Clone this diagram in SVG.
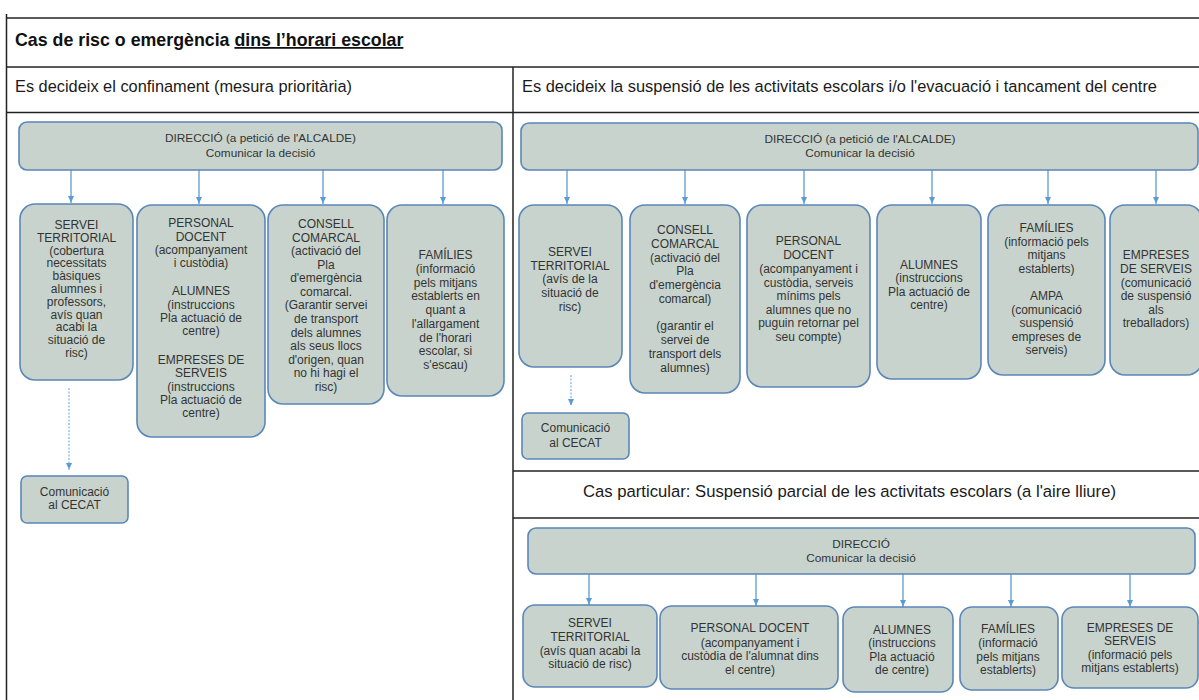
<svg xmlns="http://www.w3.org/2000/svg" width="1199" height="700" viewBox="0 0 1199 700">
<defs>
<marker id="ah" markerWidth="8" markerHeight="7" refX="7" refY="3.5" orient="auto" markerUnits="userSpaceOnUse">
<path d="M0,0.5 L6.5,3.5 L0,6.5 Z" fill="#5b9bd5"/>
</marker>
<style>
.tl{stroke:#222;stroke-width:1.5;fill:none}
.hd{font-family:"Liberation Sans",Arial,sans-serif;font-size:16.3px;fill:#1a1a1a}
.ti{font-family:"Liberation Sans",Arial,sans-serif;font-size:17.8px;font-weight:bold;fill:#111}
.bx{fill:#c8d3cd;stroke:#5a87b8;stroke-width:1.6}
.nt{font-family:"Liberation Sans",Arial,sans-serif;font-size:12px;fill:#333;text-anchor:middle}
.dt{font-family:"Liberation Sans",Arial,sans-serif;font-size:11.8px;fill:#333;text-anchor:middle}
.ar{stroke:#5b9bd5;stroke-width:1.3;fill:none}
.ad{stroke:#7fb0e0;stroke-width:1.2;fill:none;stroke-dasharray:2 1.5}
</style>
</defs>
<rect width="1199" height="700" fill="#fff"/>
<g id="table">
<line class="tl" x1="6.5" y1="14" x2="6.5" y2="700"/>
<line class="tl" x1="6" y1="18" x2="1199" y2="18"/>
<line class="tl" x1="6" y1="67" x2="1199" y2="67"/>
<line class="tl" x1="6" y1="112.5" x2="1199" y2="112.5"/>
<line class="tl" x1="513" y1="67" x2="513" y2="700"/>
<line class="tl" x1="513" y1="471" x2="1199" y2="471"/>
<line class="tl" x1="513" y1="518" x2="1199" y2="518"/>
<text class="ti" x="15" y="46">Cas de risc o emergència <tspan text-decoration="underline">dins l’horari escolar</tspan></text>
<text class="hd" x="15" y="92" textLength="337" lengthAdjust="spacingAndGlyphs">Es decideix el confinament (mesura prioritària)</text>
<text class="hd" x="522" y="92" textLength="635" lengthAdjust="spacingAndGlyphs">Es decideix la suspensió de les activitats escolars i/o l'evacuació i tancament del centre</text>
<text class="hd" x="583" y="497" textLength="533" lengthAdjust="spacingAndGlyphs">Cas particular: Suspensió parcial de les activitats escolars (a l'aire lliure)</text>
</g>
<g id="connectors">
<line class="ar" x1="71" y1="170" x2="71" y2="203" marker-end="url(#ah)"/>
<line class="ar" x1="199" y1="170" x2="199" y2="204" marker-end="url(#ah)"/>
<line class="ar" x1="323" y1="170" x2="323" y2="204" marker-end="url(#ah)"/>
<line class="ar" x1="443" y1="170" x2="443" y2="204" marker-end="url(#ah)"/>
<line class="ad" x1="69" y1="388" x2="69" y2="470" marker-end="url(#ah)"/>
<line class="ar" x1="567" y1="170" x2="567" y2="204" marker-end="url(#ah)"/>
<line class="ar" x1="685" y1="170" x2="685" y2="204" marker-end="url(#ah)"/>
<line class="ar" x1="804" y1="170" x2="804" y2="204" marker-end="url(#ah)"/>
<line class="ar" x1="932" y1="170" x2="932" y2="204" marker-end="url(#ah)"/>
<line class="ar" x1="1048" y1="170" x2="1048" y2="204" marker-end="url(#ah)"/>
<line class="ar" x1="1156" y1="170" x2="1156" y2="204" marker-end="url(#ah)"/>
<line class="ad" x1="571" y1="375" x2="571" y2="406" marker-end="url(#ah)"/>
<line class="ar" x1="589" y1="574" x2="589" y2="605" marker-end="url(#ah)"/>
<line class="ar" x1="756" y1="574" x2="756" y2="606" marker-end="url(#ah)"/>
<line class="ar" x1="903" y1="574" x2="903" y2="607" marker-end="url(#ah)"/>
<line class="ar" x1="1011" y1="574" x2="1011" y2="607" marker-end="url(#ah)"/>
<line class="ar" x1="1130" y1="574" x2="1130" y2="607" marker-end="url(#ah)"/>
</g>
<g id="dirL">
<rect class="bx" x="19" y="122" width="483" height="48" rx="8"/>
<text class="dt"><tspan x="260.5" y="142">DIRECCIÓ (a petició de l'ALCALDE)</tspan><tspan x="260.5" y="157">Comunicar la decisió</tspan></text>
</g>
<g id="serveiL">
<rect class="bx" x="20" y="204" width="113" height="176" rx="15"/>
<text class="nt"><tspan x="76.5" y="229">SERVEI</tspan><tspan x="76.5" y="241.8">TERRITORIAL</tspan><tspan x="76.5" y="254.6">(cobertura</tspan><tspan x="76.5" y="267.4">necessitats</tspan><tspan x="76.5" y="280.2">bàsiques</tspan><tspan x="76.5" y="293">alumnes i</tspan><tspan x="76.5" y="305.8">professors,</tspan><tspan x="76.5" y="318.6">avís quan</tspan><tspan x="76.5" y="331.4">acabi la</tspan><tspan x="76.5" y="344.2">situació de</tspan><tspan x="76.5" y="357">risc)</tspan></text>
</g>
<g id="personalL">
<rect class="bx" x="137" y="205" width="128" height="232" rx="15"/>
<text class="nt"><tspan x="201" y="227">PERSONAL</tspan><tspan x="201" y="241">DOCENT</tspan><tspan x="201" y="254">(acompanyament</tspan><tspan x="201" y="267">i custòdia)</tspan><tspan x="201" y="295">ALUMNES</tspan><tspan x="201" y="309">(instruccions</tspan><tspan x="201" y="322">Pla actuació de</tspan><tspan x="201" y="335">centre)</tspan><tspan x="201" y="364">EMPRESES DE</tspan><tspan x="201" y="377">SERVEIS</tspan><tspan x="201" y="391">(instruccions</tspan><tspan x="201" y="404">Pla actuació de</tspan><tspan x="201" y="417">centre)</tspan></text>
</g>
<g id="consellL">
<rect class="bx" x="268" y="205" width="116" height="199" rx="15"/>
<text class="nt"><tspan x="326" y="228">CONSELL</tspan><tspan x="326" y="241.6">COMARCAL</tspan><tspan x="326" y="255.1">(activació del</tspan><tspan x="326" y="268.7">Pla</tspan><tspan x="326" y="282.2">d'emergència</tspan><tspan x="326" y="295.8">comarcal.</tspan><tspan x="326" y="309.4">(Garantir servei</tspan><tspan x="326" y="322.9">de transport</tspan><tspan x="326" y="336.5">dels alumnes</tspan><tspan x="326" y="350">als seus llocs</tspan><tspan x="326" y="363.6">d'origen, quan</tspan><tspan x="326" y="377.2">no hi hagi el</tspan><tspan x="326" y="390.7">risc)</tspan></text>
</g>
<g id="familiesL">
<rect class="bx" x="387" y="205" width="117" height="191" rx="15"/>
<text class="nt"><tspan x="445.5" y="259">FAMÍLIES</tspan><tspan x="445.5" y="272.7">(informació</tspan><tspan x="445.5" y="286.5">pels mitjans</tspan><tspan x="445.5" y="300.2">establerts  en</tspan><tspan x="445.5" y="314">quant a</tspan><tspan x="445.5" y="327.7">l'allargament</tspan><tspan x="445.5" y="341.5">de l'horari</tspan><tspan x="445.5" y="355.2">escolar, si</tspan><tspan x="445.5" y="369">s'escau)</tspan></text>
</g>
<g id="cecatL">
<rect class="bx" x="21" y="476" width="107" height="47" rx="6"/>
<text class="nt"><tspan x="74.5" y="496">Comunicació</tspan><tspan x="74.5" y="509">al CECAT</tspan></text>
</g>
<g id="dirR">
<rect class="bx" x="521" y="123" width="677" height="47" rx="8"/>
<text class="dt"><tspan x="860" y="143">DIRECCIÓ (a petició de l'ALCALDE)</tspan><tspan x="860" y="157">Comunicar la decisió</tspan></text>
</g>
<g id="serveiR">
<rect class="bx" x="519" y="205" width="103" height="162" rx="15"/>
<text class="nt"><tspan x="570" y="256">SERVEI</tspan><tspan x="570" y="270">TERRITORIAL</tspan><tspan x="570" y="283">(avís de la</tspan><tspan x="570" y="297">situació de</tspan><tspan x="570" y="311">risc)</tspan></text>
</g>
<g id="consellR">
<rect class="bx" x="630" y="205" width="110" height="188" rx="15"/>
<text class="nt"><tspan x="685" y="234">CONSELL</tspan><tspan x="685" y="248">COMARCAL</tspan><tspan x="685" y="262">(activació del</tspan><tspan x="685" y="275">Pla</tspan><tspan x="685" y="289">d'emergència</tspan><tspan x="685" y="303">comarcal)</tspan><tspan x="685" y="330">(garantir el</tspan><tspan x="685" y="344">servei de</tspan><tspan x="685" y="358">transport dels</tspan><tspan x="685" y="372">alumnes)</tspan></text>
</g>
<g id="personalR">
<rect class="bx" x="747" y="205" width="123" height="182" rx="15"/>
<text class="nt"><tspan x="808.5" y="245">PERSONAL</tspan><tspan x="808.5" y="259">DOCENT</tspan><tspan x="808.5" y="273">(acompanyament i</tspan><tspan x="808.5" y="287">custòdia, serveis</tspan><tspan x="808.5" y="300">mínims pels</tspan><tspan x="808.5" y="314">alumnes que no</tspan><tspan x="808.5" y="327">puguin retornar pel</tspan><tspan x="808.5" y="341">seu compte)</tspan></text>
</g>
<g id="alumnesR">
<rect class="bx" x="877" y="205" width="104" height="174" rx="15"/>
<text class="nt"><tspan x="929" y="269">ALUMNES</tspan><tspan x="929" y="282">(instruccions</tspan><tspan x="929" y="296">Pla actuació de</tspan><tspan x="929" y="309">centre)</tspan></text>
</g>
<g id="familiesR">
<rect class="bx" x="988" y="205" width="117" height="170" rx="15"/>
<text class="nt"><tspan x="1046.5" y="232">FAMÍLIES</tspan><tspan x="1046.5" y="246">(informació pels</tspan><tspan x="1046.5" y="259">mitjans</tspan><tspan x="1046.5" y="273">establerts)</tspan><tspan x="1046.5" y="300">AMPA</tspan><tspan x="1046.5" y="314">(comunicació</tspan><tspan x="1046.5" y="327">suspensió</tspan><tspan x="1046.5" y="341">empreses de</tspan><tspan x="1046.5" y="354">serveis)</tspan></text>
</g>
<g id="empresesR">
<rect class="bx" x="1110" y="205" width="92" height="170" rx="15"/>
<text class="nt"><tspan x="1156" y="259">EMPRESES</tspan><tspan x="1156" y="273">DE SERVEIS</tspan><tspan x="1156" y="287">(comunicació</tspan><tspan x="1156" y="300">de suspensió</tspan><tspan x="1156" y="314">als</tspan><tspan x="1156" y="327">treballadors)</tspan></text>
</g>
<g id="cecatR">
<rect class="bx" x="522" y="413" width="107" height="46" rx="6"/>
<text class="nt"><tspan x="575.5" y="432">Comunicació</tspan><tspan x="575.5" y="447">al CECAT</tspan></text>
</g>
<g id="dirB">
<rect class="bx" x="528" y="528" width="667" height="46" rx="8"/>
<text class="dt"><tspan x="861" y="548">DIRECCIÓ</tspan><tspan x="861" y="562">Comunicar la decisió</tspan></text>
</g>
<g id="serveiB">
<rect class="bx" x="523" y="605" width="134" height="82" rx="12"/>
<text class="nt"><tspan x="590" y="627">SERVEI</tspan><tspan x="590" y="641">TERRITORIAL</tspan><tspan x="590" y="655">(avís quan acabi la</tspan><tspan x="590" y="668">situació de risc)</tspan></text>
</g>
<g id="personalB">
<rect class="bx" x="660" y="606" width="178" height="83" rx="12"/>
<text class="nt"><tspan x="750" y="632">PERSONAL DOCENT</tspan><tspan x="750" y="647">(acompanyament i</tspan><tspan x="750" y="660">custòdia de l'alumnat dins</tspan><tspan x="750" y="674">el centre)</tspan></text>
</g>
<g id="alumnesB">
<rect class="bx" x="843" y="607" width="110" height="85" rx="12"/>
<text class="nt"><tspan x="902" y="634">ALUMNES</tspan><tspan x="902" y="647">(instruccions</tspan><tspan x="902" y="661">Pla actuació</tspan><tspan x="902" y="674">de centre)</tspan></text>
</g>
<g id="familiesB">
<rect class="bx" x="960" y="607" width="98" height="83" rx="12"/>
<text class="nt"><tspan x="1008" y="633">FAMÍLIES</tspan><tspan x="1008" y="647">(informació</tspan><tspan x="1008" y="661">pels mitjans</tspan><tspan x="1008" y="674">establerts)</tspan></text>
</g>
<g id="empresesB">
<rect class="bx" x="1062" y="607" width="136" height="81" rx="12"/>
<text class="nt"><tspan x="1130" y="632">EMPRESES DE</tspan><tspan x="1130" y="645">SERVEIS</tspan><tspan x="1130" y="659">(informació pels</tspan><tspan x="1130" y="672">mitjans establerts)</tspan></text>
</g>
</svg>
